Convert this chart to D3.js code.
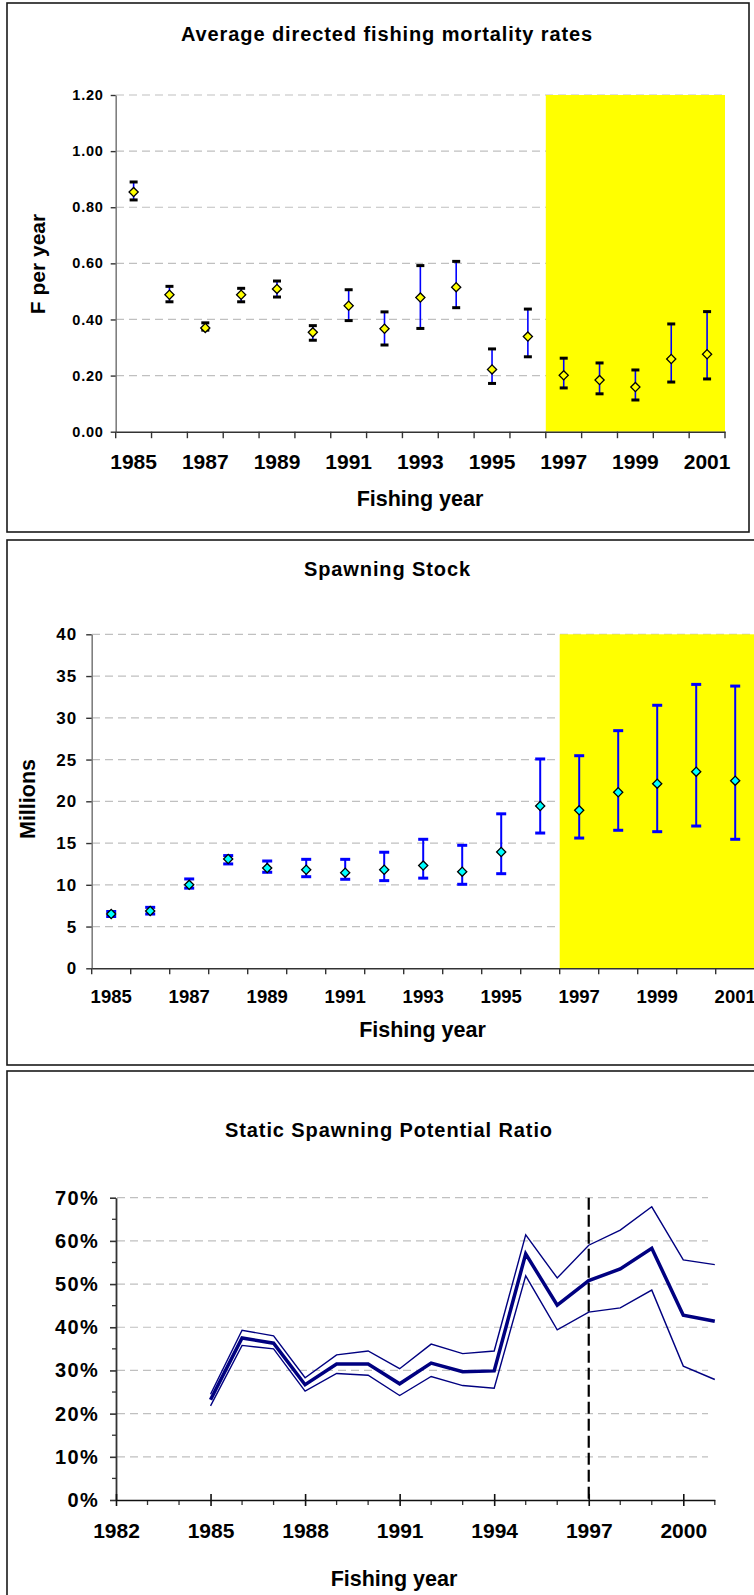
<!DOCTYPE html>
<html>
<head>
<meta charset="utf-8">
<script src="https://cdn.jsdelivr.net/npm/d3@7"></script>
<style>
  html, body { margin: 0; padding: 0; background: #fff; }
  svg { display: block; }
  text { font-family: "Liberation Sans", Arial, sans-serif; font-weight: bold; fill: #000; }
</style>
</head>
<body>
<svg id="chart" width="754" height="1595"></svg>
<script>
// ---------- DATA ----------
const years = ["1985","1986","1987","1988","1989","1990","1991","1992","1993","1994","1995","1996","1997","1998","1999","2000","2001"];

// Chart 1: Average directed fishing mortality rates
const fMid = [0.854, 0.488, 0.370, 0.488, 0.509, 0.354, 0.449, 0.367, 0.478, 0.515, 0.222, 0.339, 0.201, 0.184, 0.159, 0.259, 0.276];
const fHigh = [0.890, 0.518, 0.388, 0.511, 0.537, 0.378, 0.506, 0.427, 0.592, 0.607, 0.295, 0.437, 0.262, 0.245, 0.220, 0.384, 0.428];
const fLow = [0.826, 0.463, 0.362, 0.463, 0.480, 0.326, 0.396, 0.309, 0.368, 0.442, 0.172, 0.267, 0.156, 0.135, 0.113, 0.177, 0.188];
const fTicks = [0, 0.2, 0.4, 0.6, 0.8, 1.0, 1.2];
const fLabelYears = ["1985","1987","1989","1991","1993","1995","1997","1999","2001"];

// Chart 2: Spawning Stock (millions)
const sMid = [6.5, 6.86, 10.0, 13.09, 12.0, 11.8, 11.45, 11.8, 12.3, 11.57, 13.93, 19.44, 18.92, 21.08, 22.11, 23.55, 22.47];
const sHigh = [6.8, 7.3, 10.7, 13.5, 12.85, 13.05, 13.05, 13.9, 15.45, 14.73, 18.5, 25.07, 25.46, 28.46, 31.5, 34.0, 33.8];
const sLow = [6.2, 6.5, 9.6, 12.5, 11.5, 10.97, 10.66, 10.5, 10.8, 10.06, 11.33, 16.2, 15.6, 16.53, 16.36, 17.04, 15.45];
const sTicks = [0, 5, 10, 15, 20, 25, 30, 35, 40];

// Chart 3: Static Spawning Potential Ratio
const sprYears = [1985,1986,1987,1988,1989,1990,1991,1992,1993,1994,1995,1996,1997,1998,1999,2000,2001];
const sprMid = [0.232, 0.375, 0.363, 0.267, 0.315, 0.315, 0.269, 0.317, 0.297, 0.299, 0.570, 0.451, 0.508, 0.535, 0.583, 0.428, 0.414];
const sprHigh = [0.245, 0.393, 0.380, 0.283, 0.336, 0.345, 0.304, 0.361, 0.339, 0.345, 0.614, 0.514, 0.590, 0.625, 0.679, 0.556, 0.545];
const sprLow = [0.218, 0.358, 0.350, 0.252, 0.293, 0.289, 0.242, 0.286, 0.265, 0.259, 0.519, 0.394, 0.435, 0.445, 0.486, 0.310, 0.279];
const sprYTicks = [0, 0.1, 0.2, 0.3, 0.4, 0.5, 0.6, 0.7];
const sprXTicks = [1982, 1985, 1988, 1991, 1994, 1997, 2000];
const projectionStart = "1997";

// ---------- DRAW ----------
const svg = d3.select("#chart");
const GRID = "#c0c0c0";

function box(x0, y0, x1, y1) {
  svg.append("rect").attr("x", x0).attr("y", y0).attr("width", x1 - x0).attr("height", y1 - y0)
    .attr("fill", "#fff").attr("stroke", "#1a1a1a").attr("stroke-width", 1.6);
}

function diamond(g, cx, cy, fill) {
  g.append("path")
    .attr("d", d3.symbol().type(d3.symbolSquare).size(42)())
    .attr("transform", `translate(${cx},${cy}) rotate(45)`)
    .attr("fill", fill).attr("stroke", "#000").attr("stroke-width", 1.3);
}

// ===== Chart 1 =====
box(7, 3, 749, 532);
{
  const g = svg.append("g");
  const x = d3.scaleBand().domain(years).range([115.7, 725]).padding(0);
  const y = d3.scaleLinear().domain([0, 1.2]).range([431.7, 95]);

  // grid
  g.selectAll(".grid").data(fTicks.filter(d => d > 0)).join("line")
    .attr("x1", 116).attr("x2", 725).attr("y1", d => y(d)).attr("y2", d => y(d))
    .attr("stroke", GRID).attr("stroke-width", 1.2).attr("stroke-dasharray", "8,5");
  // yellow projection area
  g.append("rect").attr("x", x(projectionStart)).attr("y", y(1.2))
    .attr("width", x.range()[1] - x(projectionStart)).attr("height", y(0) - y(1.2)).attr("fill", "#ffff00");

  // y axis
  const ya = g.append("g").attr("transform", "translate(115.7,0)")
    .call(d3.axisLeft(y).tickValues(fTicks).tickFormat(d3.format(".2f")).tickSize(5).tickPadding(7).tickSizeOuter(0));
  ya.select(".domain").attr("stroke", "#7f7f7f").attr("stroke-width", 1.6);
  ya.selectAll(".tick line").attr("stroke", "#333").attr("stroke-width", 1.4);
  ya.selectAll("text").style("font-size", "14.5px").style("letter-spacing", "0.8px").attr("font-family", null);

  // x axis
  const xa = g.append("g").attr("transform", `translate(0,${y(0)})`)
    .call(d3.axisBottom(x).tickValues(fLabelYears).tickSize(0).tickPadding(22).tickSizeOuter(0));
  xa.select(".domain").attr("stroke", "#333").attr("stroke-width", 1.6);
  xa.selectAll("text").style("font-size", "21px").attr("font-family", null);
  const edges = years.map(d => x(d)).concat([x.range()[1]]);
  g.selectAll(".xt").data(edges).join("line")
    .attr("x1", d => d).attr("x2", d => d).attr("y1", y(0)).attr("y2", y(0) + 6.5)
    .attr("stroke", "#333").attr("stroke-width", 1.4);

  // error bars
  const bw = x.bandwidth() / 2;
  years.forEach((yr, i) => {
    const cx = x(yr) + bw;
    g.append("line").attr("x1", cx).attr("x2", cx).attr("y1", y(fHigh[i])).attr("y2", y(fLow[i]))
      .attr("stroke", "#0000ff").attr("stroke-width", 1.6);
    [fHigh[i], fLow[i]].forEach(v => {
      g.append("line").attr("x1", cx - 4).attr("x2", cx + 4).attr("y1", y(v)).attr("y2", y(v))
        .attr("stroke", "#000").attr("stroke-width", 3);
    });
    diamond(g, cx, y(fMid[i]), "#ffff00");
  });

  g.append("text").attr("x", 387).attr("y", 40.5).attr("text-anchor", "middle")
    .style("font-size", "20px").style("letter-spacing", "0.9px").text("Average directed fishing mortality rates");
  g.append("text").attr("x", 420).attr("y", 506).attr("text-anchor", "middle")
    .style("font-size", "21.5px").text("Fishing year");
  g.append("text").attr("transform", "translate(45,264) rotate(-90)").attr("text-anchor", "middle")
    .style("font-size", "21px").text("F per year");
}

// ===== Chart 2 =====
box(7, 540, 770, 1065);
{
  const g = svg.append("g");
  const x = d3.scaleBand().domain(years).range([91.7, 91.7 + 17 * 39]).padding(0);
  const y = d3.scaleLinear().domain([0, 40]).range([968.3, 634.3]);

  g.selectAll(".grid").data(sTicks.filter(d => d > 0)).join("line")
    .attr("x1", 92).attr("x2", 754).attr("y1", d => y(d)).attr("y2", d => y(d))
    .attr("stroke", GRID).attr("stroke-width", 1.2).attr("stroke-dasharray", "8,5");
  g.append("rect").attr("x", x(projectionStart)).attr("y", y(40))
    .attr("width", x.range()[1] - x(projectionStart)).attr("height", y(0) - y(40)).attr("fill", "#ffff00");

  const ya = g.append("g").attr("transform", "translate(91.7,0)")
    .call(d3.axisLeft(y).tickValues(sTicks).tickFormat(d3.format("d")).tickSize(5.5).tickPadding(9).tickSizeOuter(0));
  ya.select(".domain").attr("stroke", "#7f7f7f").attr("stroke-width", 1.6);
  ya.selectAll(".tick line").attr("stroke", "#333").attr("stroke-width", 1.4);
  ya.selectAll("text").style("font-size", "17px").style("letter-spacing", "1px").attr("font-family", null);

  const xa = g.append("g").attr("transform", `translate(0,${y(0)})`)
    .call(d3.axisBottom(x).tickValues(fLabelYears).tickSize(0).tickPadding(22).tickSizeOuter(0));
  xa.select(".domain").attr("stroke", "#333").attr("stroke-width", 1.6);
  xa.selectAll("text").style("font-size", "18.5px").attr("font-family", null);
  const edges = years.map(d => x(d)).concat([x.range()[1]]);
  g.selectAll(".xt").data(edges).join("line")
    .attr("x1", d => d).attr("x2", d => d).attr("y1", y(0)).attr("y2", y(0) + 6)
    .attr("stroke", "#333").attr("stroke-width", 1.4);

  const bw = x.bandwidth() / 2;
  years.forEach((yr, i) => {
    const cx = x(yr) + bw;
    g.append("line").attr("x1", cx).attr("x2", cx).attr("y1", y(sHigh[i])).attr("y2", y(sLow[i]))
      .attr("stroke", "#0000ff").attr("stroke-width", 2);
    [sHigh[i], sLow[i]].forEach(v => {
      g.append("line").attr("x1", cx - 5).attr("x2", cx + 5).attr("y1", y(v)).attr("y2", y(v))
        .attr("stroke", "#0000ff").attr("stroke-width", 3);
    });
    diamond(g, cx, y(sMid[i]), "#00ffff");
  });

  g.append("text").attr("x", 387.5).attr("y", 576).attr("text-anchor", "middle")
    .style("font-size", "20px").style("letter-spacing", "0.9px").text("Spawning Stock");
  g.append("text").attr("x", 422.5).attr("y", 1037).attr("text-anchor", "middle")
    .style("font-size", "21.5px").text("Fishing year");
  g.append("text").attr("transform", "translate(35,799) rotate(-90)").attr("text-anchor", "middle")
    .style("font-size", "21.5px").text("Millions");
}

// ===== Chart 3 =====
box(7, 1071, 770, 1620);
{
  const g = svg.append("g");
  const x = d3.scaleLinear().domain([1982, 2001]).range([116, 714.8]);
  const y = d3.scaleLinear().domain([0, 0.7]).range([1500, 1197.7]);

  g.selectAll(".grid").data(sprYTicks.filter(d => d > 0)).join("line")
    .attr("x1", 117).attr("x2", 708).attr("y1", d => y(d)).attr("y2", d => y(d))
    .attr("stroke", GRID).attr("stroke-width", 1.2).attr("stroke-dasharray", "8,5");

  // minor y ticks every 5%
  g.selectAll(".ymin").data(d3.range(0.05, 0.7, 0.1)).join("line")
    .attr("x1", 112).attr("x2", 116).attr("y1", d => y(d)).attr("y2", d => y(d))
    .attr("stroke", "#333").attr("stroke-width", 1.3);
  const ya = g.append("g").attr("transform", "translate(116,0)")
    .call(d3.axisLeft(y).tickValues(sprYTicks).tickFormat(d3.format(".0%")).tickSize(6).tickPadding(11).tickSizeOuter(0));
  ya.select(".domain").attr("stroke", "#333").attr("stroke-width", 1.8);
  ya.selectAll(".tick line").attr("stroke", "#333").attr("stroke-width", 1.6);
  ya.selectAll("text").style("font-size", "20px").style("letter-spacing", "1.3px").attr("font-family", null);

  // minor x ticks every year
  g.selectAll(".xmin").data(d3.range(1983, 2002).filter(d => !sprXTicks.includes(d))).join("line")
    .attr("x1", d => x(d)).attr("x2", d => x(d)).attr("y1", y(0)).attr("y2", y(0) + 5)
    .attr("stroke", "#333").attr("stroke-width", 1.3);
  const xa = g.append("g").attr("transform", `translate(0,${y(0)})`)
    .call(d3.axisBottom(x).tickValues(sprXTicks).tickFormat(d3.format("d")).tickSize(6).tickPadding(17).tickSizeOuter(0));
  xa.select(".domain").attr("stroke", "#111").attr("stroke-width", 1.6);
  xa.selectAll(".tick line").attr("stroke", "#111").attr("stroke-width", 1.6).attr("y1", -6);
  xa.selectAll("text").style("font-size", "21px").attr("font-family", null);

  // 1997 dashed marker
  g.append("line").attr("x1", x(+projectionStart)).attr("x2", x(+projectionStart)).attr("y1", y(0.7)).attr("y2", y(0))
    .attr("stroke", "#000").attr("stroke-width", 2.2).attr("stroke-dasharray", "12,5");

  const line = arr => d3.line().x((d, i) => x(sprYears[i])).y(d => y(d))(arr);
  g.append("path").attr("d", line(sprHigh)).attr("fill", "none").attr("stroke", "#000080").attr("stroke-width", 1.4);
  g.append("path").attr("d", line(sprLow)).attr("fill", "none").attr("stroke", "#000080").attr("stroke-width", 1.4);
  g.append("path").attr("d", line(sprMid)).attr("fill", "none").attr("stroke", "#000080").attr("stroke-width", 3.5);

  g.append("text").attr("x", 389).attr("y", 1137).attr("text-anchor", "middle")
    .style("font-size", "20px").style("letter-spacing", "0.9px").text("Static Spawning Potential Ratio");
  g.append("text").attr("x", 394).attr("y", 1586).attr("text-anchor", "middle")
    .style("font-size", "21.5px").text("Fishing year");
}
</script>
</body>
</html>
